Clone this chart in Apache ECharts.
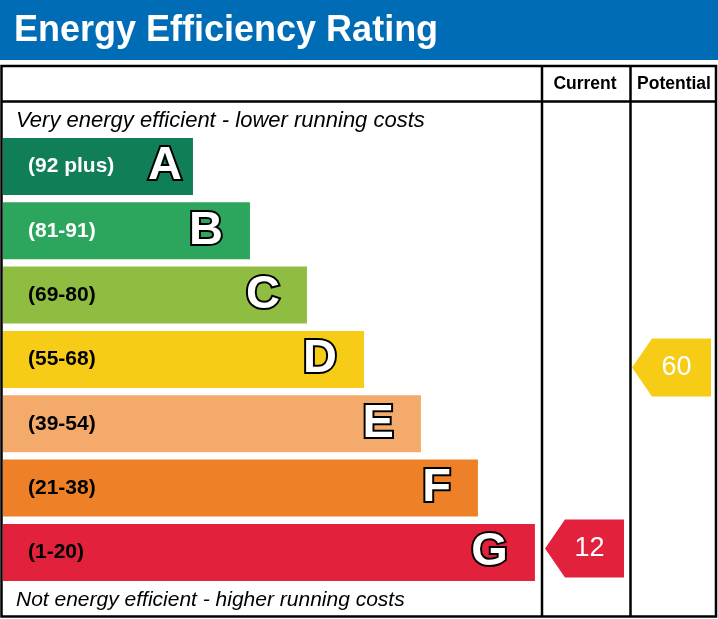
<!DOCTYPE html>
<html>
<head>
<meta charset="utf-8">
<script src="https://cdn.jsdelivr.net/npm/echarts@6/dist/echarts.min.js"></script>
<style>
  html, body { margin: 0; padding: 0; background: #fff; }
  #chart { width: 718px; height: 619px; }
</style>
</head>
<body>
<div id="chart"></div>
<script>
// rating bands, top to bottom
var letters = ['A', 'B', 'C', 'D', 'E', 'F', 'G'];
var ranges = ['(92 plus)', '(81-91)', '(69-80)', '(55-68)', '(39-54)', '(21-38)', '(1-20)'];
var bandMin = [92, 81, 69, 55, 39, 21, 1];
var barLengths = [10, 13, 16, 19, 22, 25, 28];
var barColors = ['#107e57', '#2ca55d', '#8ebd41', '#f6cc17', '#f3aa6b', '#ee8127', '#e2213c'];
var rangeTextColors = ['#fff', '#fff', '#000', '#000', '#000', '#000', '#000'];

var currentScore = 12;
var potentialScore = 60;

var FONT = '"Liberation Sans", Arial, sans-serif';

function bandOf(score) {
  for (var i = 0; i < bandMin.length; i++) {
    if (score >= bandMin[i]) return i;
  }
  return bandMin.length - 1;
}

var gridTop = 134.3, gridHeight = 450.3;
var arrowPath = 'path://M0 29L20 0L79 0L79 58L20 58Z';

function arrowSeries(idx, score, dy) {
  var b = bandOf(score);
  return {
    type: 'scatter',
    xAxisIndex: idx,
    yAxisIndex: idx,
    symbol: arrowPath,
    symbolSize: [79, 58],
    symbolOffset: [-1.5, dy],
    itemStyle: { color: barColors[b], opacity: 1 },
    label: {
      show: true,
      position: 'inside',
      offset: [5, 0],
      formatter: function (p) { return p.value[2]; },
      color: '#fff',
      fontFamily: FONT,
      fontSize: 27
    },
    silent: true,
    data: [[0.5, letters[b], score]]
  };
}

var myChart = echarts.init(document.getElementById('chart'));

var option = {
  animation: false,
  grid: [
    { left: 3, top: gridTop, width: 538, height: gridHeight },
    { left: 542, top: gridTop, width: 88, height: gridHeight },
    { left: 630, top: gridTop, width: 86, height: gridHeight }
  ],
  xAxis: [
    { type: 'value', gridIndex: 0, min: 0, max: 28.32, show: false },
    { type: 'value', gridIndex: 1, min: 0, max: 1, show: false },
    { type: 'value', gridIndex: 2, min: 0, max: 1, show: false }
  ],
  yAxis: [0, 1, 2].map(function (g) {
    return { type: 'category', gridIndex: g, data: letters, inverse: true, show: false };
  }),
  series: [
    {
      type: 'bar',
      barWidth: 57,
      silent: true,
      data: barLengths.map(function (v, i) {
        return {
          value: v,
          itemStyle: { color: barColors[i] },
          label: { color: rangeTextColors[i] }
        };
      }),
      label: {
        show: true,
        position: 'insideLeft',
        distance: 25,
        formatter: function (p) { return ranges[p.dataIndex]; },
        fontFamily: FONT,
        fontWeight: 'bold',
        fontSize: 21
      }
    },
    {
      type: 'bar',
      barWidth: 57,
      barGap: '-100%',
      silent: true,
      itemStyle: { color: 'transparent' },
      data: barLengths.map(function (v, i) {
        return {
          value: v,
          label: { distance: i === 0 ? 11 : 27 }
        };
      }),
      label: {
        show: true,
        position: 'insideRight',
        formatter: function (p) { return letters[p.dataIndex]; },
        color: '#fff',
        textBorderColor: '#000',
        textBorderWidth: 4,
        fontFamily: FONT,
        fontWeight: 'bold',
        fontSize: 47
      }
    },
    arrowSeries(1, currentScore, -4),
    arrowSeries(2, potentialScore, 8)
  ],
  graphic: [
    { type: 'rect', shape: { x: 0, y: 0, width: 718, height: 60 }, style: { fill: '#006cb5' }, silent: true },
    {
      type: 'text', x: 14, y: 31, silent: true,
      style: { text: 'Energy Efficiency Rating', fill: '#fff', font: 'bold 36px ' + FONT, verticalAlign: 'middle' }
    },
    {
      type: 'rect', z: 10, silent: true,
      shape: { x: 1.5, y: 66, width: 714.5, height: 550.5 },
      style: { fill: 'none', stroke: '#000', lineWidth: 2.5 }
    },
    { type: 'line', z: 10, silent: true, shape: { x1: 1.5, y1: 101.5, x2: 716, y2: 101.5 }, style: { stroke: '#000', lineWidth: 2.5 } },
    { type: 'line', z: 10, silent: true, shape: { x1: 542, y1: 66, x2: 542, y2: 617 }, style: { stroke: '#000', lineWidth: 2.5 } },
    { type: 'line', z: 10, silent: true, shape: { x1: 630.5, y1: 66, x2: 630.5, y2: 617 }, style: { stroke: '#000', lineWidth: 2.5 } },
    {
      type: 'text', x: 585, y: 84, silent: true,
      style: { text: 'Current', fill: '#000', font: 'bold 17.5px ' + FONT, align: 'center', verticalAlign: 'middle' }
    },
    {
      type: 'text', x: 674, y: 84, silent: true,
      style: { text: 'Potential', fill: '#000', font: 'bold 17.5px ' + FONT, align: 'center', verticalAlign: 'middle' }
    },
    {
      type: 'text', x: 16, y: 121, silent: true,
      style: { text: 'Very energy efficient - lower running costs', fill: '#000', font: 'italic 22px ' + FONT, verticalAlign: 'middle' }
    },
    {
      type: 'text', x: 16, y: 600, silent: true,
      style: { text: 'Not energy efficient - higher running costs', fill: '#000', font: 'italic 21px ' + FONT, verticalAlign: 'middle' }
    }
  ]
};

myChart.setOption(option);
window.addEventListener('resize', function () {
  myChart.resize();
});
</script>
</body>
</html>
